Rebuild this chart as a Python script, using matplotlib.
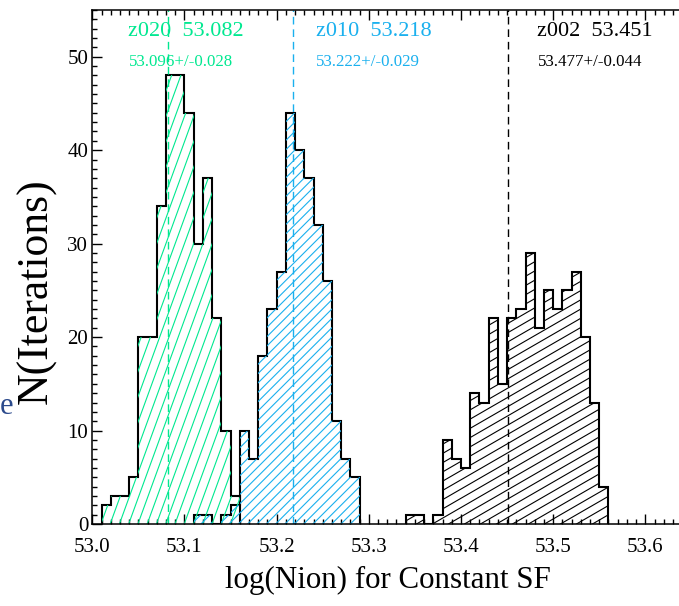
import numpy as np
import matplotlib
matplotlib.use('Agg')
import matplotlib.pyplot as plt
from matplotlib.patches import Polygon
from matplotlib.collections import LineCollection
from matplotlib.ticker import MultipleLocator

plt.rcParams['font.family'] = ['Liberation Serif', 'DejaVu Serif']

# histogram counts, bin width 0.01 in log(Nion)
bin_width = 0.01
z020_start = 53.01
z020_counts = [2, 3, 3, 5, 20, 20, 34, 48, 48, 44, 30, 37, 22, 10, 3]
z010_start = 53.11
z010_counts = [1, 1, 0, 1, 2, 10, 7, 18, 23, 27, 44, 40, 37, 32, 26, 11, 7, 5]
z002_start = 53.34
z002_counts = [1, 1, 0, 1, 9, 7, 6, 14, 13, 22, 15, 22, 23, 29, 21, 25, 23,
               25, 27, 20, 13, 4]

names = ['z020', 'z010', 'z002']
medians = [53.082, 53.218, 53.451]
means = [53.096, 53.222, 53.477]
errors = [0.028, 0.029, 0.044]

colors = ['#00e890', '#1ab0ee', 'black']
hatch_angle = [70, 45, 30]
hatch_space = [8.7, 6.6, 8.0]
text_x = [53.039, 53.2425, 53.4825]


def Hatch(ax, counts, start, color, angle, space):
    """ Dessine le contour et des hachures inclinees dans l'histogramme """
    counts = np.array(counts, dtype=float)
    edges = start + bin_width * np.arange(len(counts) + 1)
    xs = np.repeat(edges, 2)
    ys = np.concatenate([[0], np.repeat(counts, 2), [0]])
    poly = Polygon(np.column_stack([xs, ys]), closed=True, fill=False,
                   linewidth=0, transform=ax.transData)
    ax.add_patch(poly)

    pix = ax.transData.transform(np.column_stack([xs, ys]))
    th = np.radians(angle)
    u = np.array([np.cos(th), np.sin(th)])
    n = np.array([-np.sin(th), np.cos(th)])
    proj = pix @ n
    diag = np.ptp(pix[:, 0]) + np.ptp(pix[:, 1]) + 50
    c = pix.mean(axis=0)
    c_proj = c @ n
    segs = []
    for d in np.arange(proj.min() - space, proj.max() + space, space):
        p0 = c + (d - c_proj) * n
        a = p0 - diag * u
        b = p0 + diag * u
        segs.append(ax.transData.inverted().transform(np.array([a, b])))
    lc = LineCollection(segs, colors=color, linewidths=0.8,
                        transform=ax.transData)
    ax.add_collection(lc)
    lc.set_clip_path(poly)

    ax.stairs(counts, edges, baseline=0, fill=False, color='black',
              linewidth=1.5)


fig = plt.figure(figsize=(6.79, 6.06), dpi=100)
ax = fig.add_axes([92.3 / 679, 82 / 606, 645.2 / 679, 514 / 606])
ax.set_xlim(53.0, 53.7)
ax.set_ylim(0, 55)

Hatch(ax, z020_counts, z020_start, colors[0], hatch_angle[0], hatch_space[0])
Hatch(ax, z010_counts, z010_start, colors[1], hatch_angle[1], hatch_space[1])
Hatch(ax, z002_counts, z002_start, colors[2], hatch_angle[2], hatch_space[2])

for i in range(3):
    ax.axvline(medians[i], color=colors[i], linewidth=1.0,
               linestyle=(0, (5.5, 3.5)))
    ax.text(text_x[i], 52.7, '%s  %.3f' % (names[i], medians[i]),
            color=colors[i], fontsize=16, va='center', ha='left')
    ax.text(text_x[i] + 0.0005, 49.4, '%.3f+/-%.3f' % (means[i], errors[i]),
            color=colors[i], fontsize=12.2, va='center', ha='left')

ax.xaxis.set_major_locator(MultipleLocator(0.1))
ax.xaxis.set_minor_locator(MultipleLocator(0.01))
ax.yaxis.set_major_locator(MultipleLocator(10))
ax.yaxis.set_minor_locator(MultipleLocator(1))
ax.tick_params(which='both', direction='in', top=True, right=True,
               width=1.0, labelsize=15)
ax.tick_params(which='major', length=7.2)
ax.tick_params(which='minor', length=3.6)
ax.tick_params(axis='x', which='major', pad=10)
ax.tick_params(axis='y', which='major', pad=3)
ax.set_xticks(np.arange(53.0, 53.65, 0.1))
ax.set_xticklabels(['53.0', '53.1', '53.2', '53.3', '53.4', '53.5', '53.6'])
for s in ax.spines.values():
    s.set_linewidth(1.1)

# axis titles placed by hand, the axes runs past the right edge
fig.text(388 / 679, 1 - 580 / 606, 'log(Nion) for Constant SF', fontsize=22.3,
         ha='center', va='center')
fig.text(37 / 679, 1 - 291 / 606, 'N(Iterations)', fontsize=31.5,
         rotation=90, ha='center', va='center')

fig.text(0.0, 0.33, 'e', color='#2b4a8c', fontsize=22, ha='left',
         va='center')

fig.savefig('out.png', dpi=100)
